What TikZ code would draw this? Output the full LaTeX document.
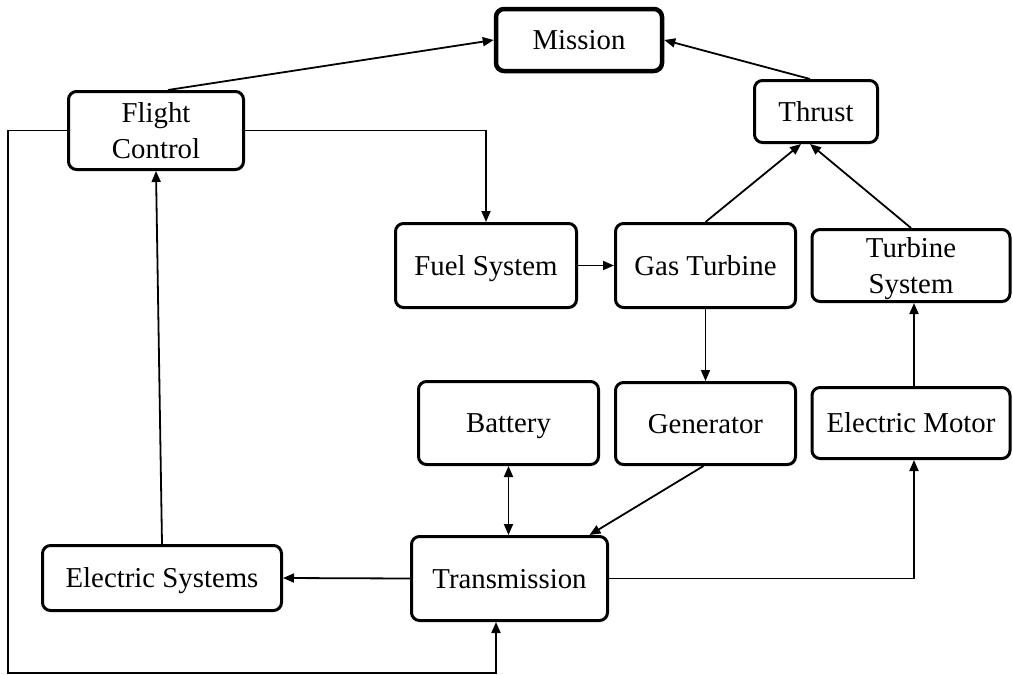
\documentclass[tikz,border=0pt]{standalone}
\usepackage{fontspec}
\setmainfont{Liberation Serif}
\usetikzlibrary{arrows.meta}
\begin{document}
\begin{tikzpicture}[x=1pt,y=1pt,
  box/.style={draw=black, line width=3pt, rounded corners=8pt, align=center,
    inner sep=0pt, text depth=0pt, font=\fontsize{28.8}{35.5}\selectfont},
  arr/.style={line width=1.8pt, -{Triangle[length=11pt,width=9pt]}},
  darr/.style={line width=1.8pt, {Triangle[length=11pt,width=9pt]}-{Triangle[length=11pt,width=9pt]}}]
\useasboundingbox (0,0) rectangle (1013,-675);
\node[box, line width=4.5pt, minimum width=166pt, minimum height=62pt] (mission) at (579,-40) {Mission};
\node[box, minimum width=175pt, minimum height=78pt] (fc) at (156,-130.5) {Flight\\Control};
\node[box, minimum width=123pt, minimum height=62pt] (thrust) at (816,-111.5) {Thrust};
\node[box, minimum width=181pt, minimum height=84pt] (fuel) at (486,-265.5) {Fuel System};
\node[box, minimum width=180pt, minimum height=84pt] (gas) at (705.5,-265.5) {Gas Turbine};
\node[box, minimum width=198pt, minimum height=72pt] (ts) at (911,-265.5) {Turbine\\System};
\node[box, minimum width=180pt, minimum height=83pt] (bat) at (508.5,-423) {Battery};
\node[box, minimum width=180pt, minimum height=82pt] (gen) at (705.5,-423.5) {Generator};
\node[box, minimum width=198pt, minimum height=71pt] (em) at (911,-423) {Electric Motor};
\node[box, minimum width=239pt, minimum height=65pt] (es) at (162,-578) {Electric Systems};
\node[box, minimum width=196pt, minimum height=84pt] (tr) at (509.5,-578.5) {Transmission};
\coordinate (c1) at (8,-130.5);
\coordinate (c2) at (8,-673);
\draw[arr] ([xshift=12pt]fc.north) -- (mission.west);
\draw[arr] ([xshift=-6pt]thrust.north) -- (mission.east);
\draw[arr] (gas.north) -- ([xshift=-15pt]thrust.south);
\draw[arr] (ts.north) -- ([xshift=-6pt]thrust.south);
\draw[arr] (fc.east) -| (fuel.north);
\draw[arr] (fuel.east) -- (gas.west);
\draw[arr] (gas.south) -- (gen.north);
\draw[arr] ([xshift=3pt]em.north) -- ([xshift=3pt]ts.south);
\draw[darr] (bat.south) -- (bat.south |- tr.north);
\draw[arr] ([xshift=-2pt]gen.south) -- ([xshift=80pt]tr.north);
\draw[arr] (tr.west) -- (es.east);
\draw[arr] (tr.east) -| ([xshift=3pt]em.south);
\draw[arr] (es.north) -- (fc.south);
\draw[arr] (fc.west) -- (c1) -- (c2) -| ([xshift=-13.5pt]tr.south);
\end{tikzpicture}
\end{document}
